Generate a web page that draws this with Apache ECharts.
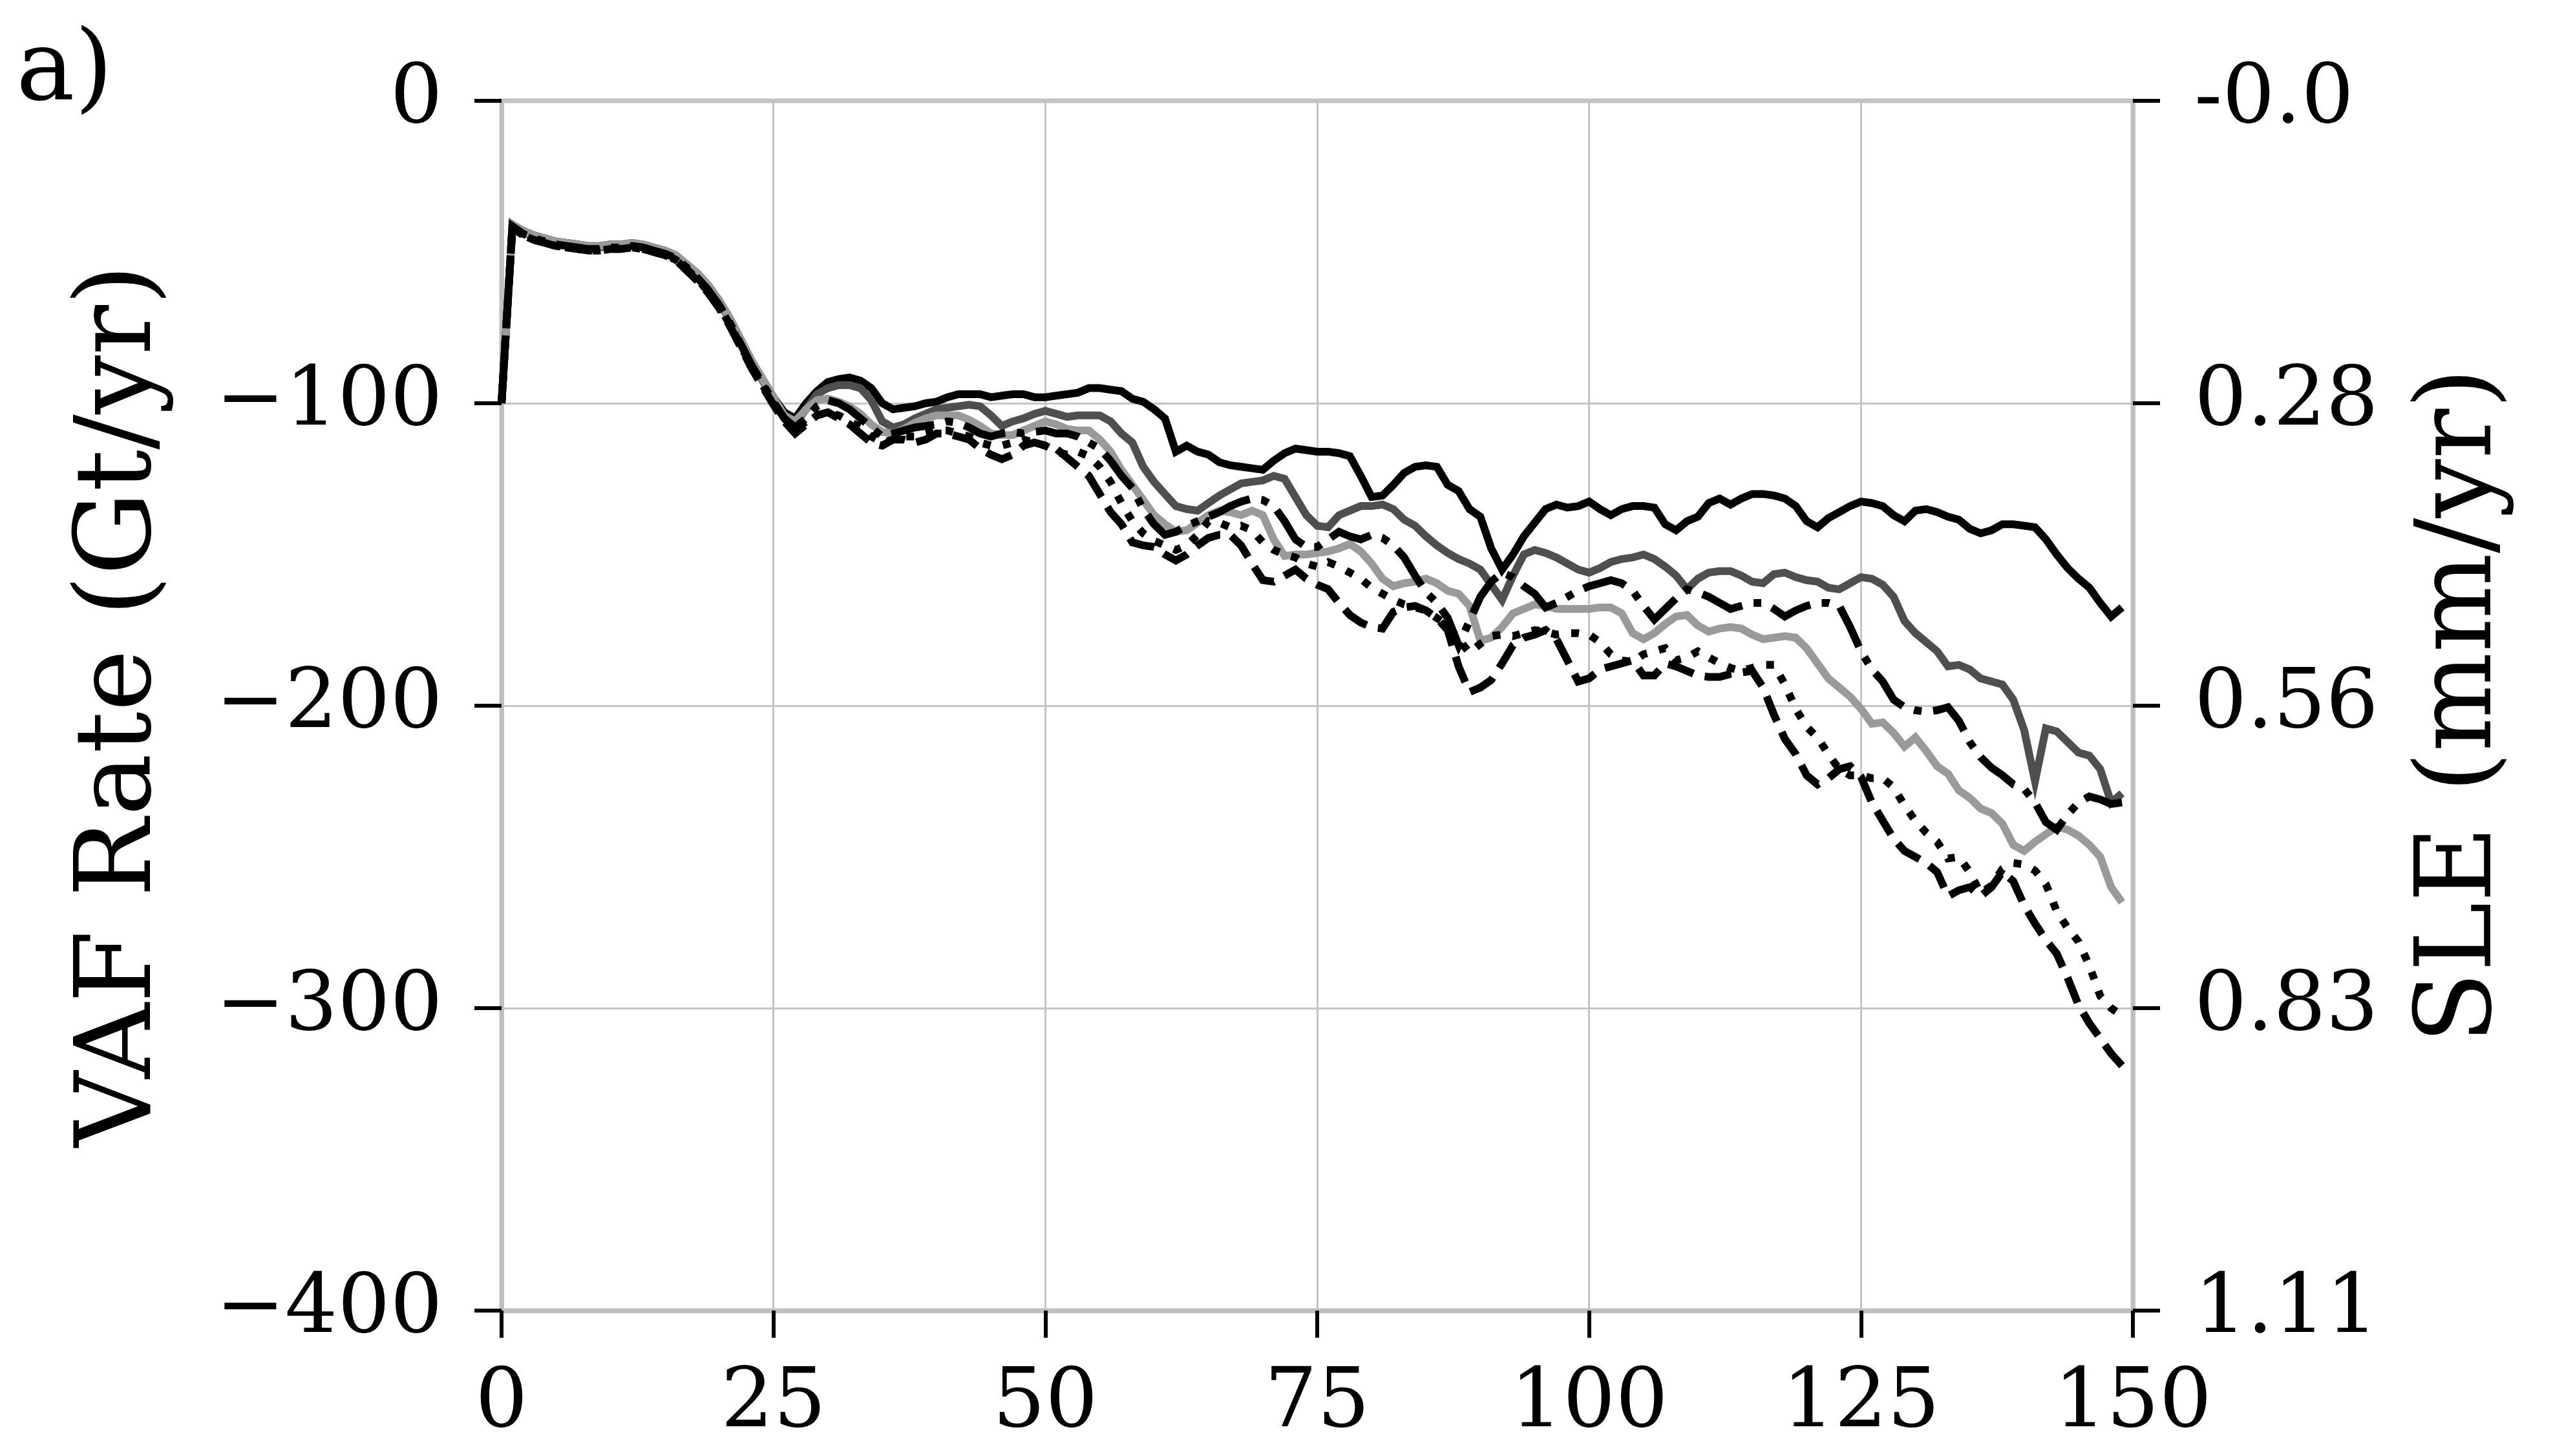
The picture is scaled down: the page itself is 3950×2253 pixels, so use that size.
<!DOCTYPE html>
<html>
<head>
    <meta charset="UTF-8">
    <title>VAF Rate</title>
    <script src="https://cdn.jsdelivr.net/npm/echarts@6/dist/echarts.min.js"></script>
    <style>
        html, body { margin: 0; padding: 0; background: #fff; }
        #main { width: 3950px; height: 2253px; }
    </style>
</head>
<body>
    <div id="main"></div>

    <script type="text/javascript">
        // model years (x)
        const years = [
            0, 1, 2, 3, 4, 5, 6, 7, 8, 9, 10, 11, 12, 13, 14, 15, 16, 17, 18, 19,
            20, 21, 22, 23, 24, 25, 26, 27, 28, 29, 30, 31, 32, 33, 34, 35, 36, 37, 38, 39,
            40, 41, 42, 43, 44, 45, 46, 47, 48, 49, 50, 51, 52, 53, 54, 55, 56, 57, 58, 59,
            60, 61, 62, 63, 64, 65, 66, 67, 68, 69, 70, 71, 72, 73, 74, 75, 76, 77, 78, 79,
            80, 81, 82, 83, 84, 85, 86, 87, 88, 89, 90, 91, 92, 93, 94, 95, 96, 97, 98, 99,
            100, 101, 102, 103, 104, 105, 106, 107, 108, 109, 110, 111, 112, 113, 114, 115, 116, 117, 118, 119,
            120, 121, 122, 123, 124, 125, 126, 127, 128, 129, 130, 131, 132, 133, 134, 135, 136, 137, 138, 139,
            140, 141, 142, 143, 144, 145, 146, 147, 148, 149
        ];

        // VAF rate (Gt/yr)
        const solidBlack = [
            -100, -41, -43, -44.5, -45.5, -46.5, -47, -47.5, -48, -48, -47.5, -47.5, -47, -47.5, -48.5, -49.5, -51, -54, -57, -61,
            -66, -72, -79, -86, -92, -98, -103, -105, -100, -96, -93, -92, -91.5, -92.5, -95, -100, -102, -101.5, -101, -100,
            -99.5, -98, -97, -97, -97, -98, -97.5, -97, -97, -98, -98, -97.5, -97, -96.5, -95, -95, -95.5, -96, -98.5, -99.5,
            -102, -105, -116, -114, -116, -117, -119.5, -120.5, -121, -121.5, -122, -119, -116.5, -115, -115.5, -116, -116, -116.5, -117.5, -124,
            -131, -130.5, -127, -123, -121, -120.5, -121, -127, -129, -135, -137.5, -148, -155, -150, -144, -139.5, -135, -133.5, -134.5, -134,
            -132.5, -135, -137, -135, -134, -134, -134.5, -140, -142, -139, -137.5, -133, -131.5, -133.5, -131.5, -130, -130, -130.5, -131.5, -134,
            -139, -141, -138, -136, -134, -132.5, -133, -134, -137, -139, -135.5, -135, -136, -137.5, -138.5, -141.5, -143, -142, -140, -140,
            -140.5, -141, -145, -150, -154.5, -158, -161, -166, -170.5, -167.5
        ];
        const darkGrey = [
            -100, -41, -43.5, -45, -46, -47, -47.5, -48, -48.5, -48.5, -48, -48, -47.5, -48, -49, -50, -51.5, -54.5, -57.5, -61.5,
            -66.5, -72.5, -79.5, -86.5, -92.5, -98.5, -104, -107, -102, -97, -95, -94, -94, -95, -99, -106, -108, -107, -105, -103.5,
            -102, -101.5, -101, -100.5, -101, -104, -107.5, -106, -105, -103.5, -102.5, -103.5, -104.5, -104, -104, -104, -106, -110, -113, -121,
            -126, -130, -134, -135, -135.5, -133, -130.5, -128.5, -126.5, -126, -125.5, -124, -125, -131, -137, -140.5, -141, -137, -135.5, -134,
            -134, -133.5, -135, -138.5, -140.5, -144, -147, -149.5, -151.5, -153, -155, -160, -165, -157, -150, -148.5, -149.5, -151, -153, -155,
            -156, -154.5, -152.5, -151.5, -151, -150, -151.5, -154, -157, -161.5, -158, -156, -155.5, -155.5, -157, -159, -159.5, -156.5, -156, -157.5,
            -158.5, -159, -161, -161.5, -159.5, -157.5, -158, -160, -164, -172, -176, -179, -182, -187, -186.5, -188, -191, -192, -193, -198,
            -208, -225, -207.5, -208.5, -212, -215.5, -216.5, -221, -232, -229
        ];
        const lightGrey = [
            -100, -41, -43, -44.5, -45.5, -46.5, -47, -47.5, -48, -48, -47.5, -47.5, -47, -47.5, -48.5, -49.5, -51, -54, -57, -61,
            -66, -72, -79, -86, -92, -98, -104, -106, -102, -99, -98.5, -99.5, -101, -103.5, -107, -109.5, -110, -108.5, -106.5, -105,
            -104, -104, -104, -105.5, -107.5, -110, -110.5, -110.5, -109, -107.5, -106, -107, -108.5, -109, -109, -112, -116, -122, -127, -132,
            -137, -140, -142.5, -142, -139.5, -137, -135.5, -136, -137, -135.5, -137, -145, -150.5, -150, -150, -149.5, -149, -148, -146.5, -149,
            -153, -158, -160.5, -159.5, -159, -158, -159.5, -162, -163, -167, -178.5, -177.5, -174, -169.5, -168, -166.5, -167, -168, -168, -168,
            -168, -167.5, -167.5, -169.5, -176, -178, -176, -173, -170.5, -170, -173.5, -175.5, -174.5, -174, -174.5, -176.5, -178, -177.5, -177, -177.5,
            -181, -186, -191, -194, -197, -201, -206, -205.5, -209, -213.5, -210.5, -215, -220, -222.5, -228, -230.5, -234, -235.5, -239, -246,
            -248, -245, -242.5, -240, -241, -243, -246, -250, -260, -265
        ];
        const dashDot = [
            -100, -41.5, -44, -45.5, -46.5, -47.5, -48, -48.5, -49, -49, -48.5, -48.5, -48, -48.5, -49.5, -50.5, -52, -55, -58.5, -62.5,
            -67.5, -73.5, -80.5, -87.5, -93.5, -99.5, -105, -108, -105, -101, -99, -100, -102, -105, -108, -111, -110, -109, -108, -107.5,
            -107, -106, -106.5, -108, -110, -111, -110, -109.5, -110, -109.5, -109, -110, -110, -111, -113, -115, -119, -124, -128, -135,
            -140, -143.5, -142.5, -140.5, -139, -137.5, -136, -134, -132.5, -131.5, -132, -134, -139, -145, -147.5, -147.5, -145, -142.5, -144, -145,
            -143.5, -144.5, -147, -151, -157, -162.5, -166, -171, -180, -172, -164, -159, -156, -157.5, -160.5, -163, -167.5, -166, -164, -162,
            -160.5, -159.5, -158.5, -159.5, -162, -167, -171.5, -168, -164.5, -161.5, -162.5, -164, -166, -168, -167, -166, -166, -168, -170.5, -168.5,
            -167, -166, -166, -167, -174, -182, -188, -192, -198, -200.5, -201.5, -202, -201.5, -200.5, -205, -212, -217, -220.5, -223, -226,
            -227.5, -232, -238.5, -241, -236, -232, -230, -231, -232.5, -232
        ];
        const dotted = [
            -100, -42, -44.5, -46, -47, -48, -48.5, -49, -49.5, -49.5, -49, -49, -48.5, -49, -50, -51, -52.5, -55.5, -59, -63,
            -68, -74, -81, -88, -94, -100, -105, -109, -106, -104, -103, -104, -106, -108, -111, -113, -112, -111, -111, -110,
            -109, -109, -110, -111, -113, -114, -114, -113, -112, -113, -114, -116, -117, -116, -117.5, -121, -126, -133, -139, -143,
            -145.5, -147, -148.5, -147, -143.5, -139, -139.5, -141, -140.5, -142, -146, -148.5, -150, -151, -153, -154, -152.5, -154, -156, -158,
            -161, -163, -165, -166.5, -167.5, -168.5, -171, -173.5, -178, -182.5, -179.5, -177, -176.5, -177, -176, -175, -175.5, -176.5, -176, -176,
            -176.5, -179, -183, -185, -185.5, -183, -182, -181, -185, -184, -182, -184, -186, -187.5, -188.5, -187.5, -186.5, -186.5, -193, -201,
            -207, -210.5, -216, -221, -223, -223, -224, -224, -227, -233, -238, -242, -245, -250.5, -250, -255, -262, -259.5, -254, -252,
            -252.5, -254.5, -259, -268, -273.5, -278, -286, -296, -300, -302.5
        ];
        const dashed = [
            -100, -42, -44.5, -46, -47, -48, -48.5, -49, -49.5, -49.5, -49, -49, -48.5, -49, -50, -51, -52.5, -56, -59.5, -63.5,
            -68.5, -74.5, -81.5, -88.5, -94.5, -100.5, -106, -110, -107, -104, -103, -105, -107, -110, -113, -114, -112, -112, -113, -112,
            -110, -110, -111, -112, -115, -117, -118.5, -117, -114, -113, -114, -115, -118, -121, -124, -130, -136, -140, -146, -147,
            -147.5, -150, -152, -150, -147, -144.5, -143.5, -143.5, -147, -153, -158.5, -159, -157, -155, -158, -160, -161.5, -166, -170, -172.5,
            -174, -174.5, -169, -167.5, -167, -168.5, -171, -175, -187, -195.5, -194, -191.5, -186, -180, -177.5, -176.5, -175, -178, -185, -192,
            -191, -188, -187, -186, -185, -190, -190, -186, -187, -188.5, -190, -190.5, -190.5, -189.5, -189, -188.5, -194, -203, -211, -216,
            -223, -226, -224, -221, -220, -223.5, -232, -238, -244, -248, -250, -252, -255, -263, -261, -260, -263, -260, -255, -258,
            -266, -272, -277.5, -282, -290, -299, -305, -310, -315, -319
        ];

        const xTicks = [0, 25, 50, 75, 100, 125, 150];
        const leftTicks = [0, -100, -200, -300, -400];
        // SLE equivalent, as printed on the right axis
        const rightTickLabels = ['-0.0', '0.28', '0.56', '0.83', '1.11'];

        const FONT = 'DejaVu Serif';
        const SPINE = '#bfbfbf';

        var myChart = echarts.init(document.getElementById('main'));

        function lineSeries(name, values, color, dash) {
            return {
                name: name,
                type: 'line',
                data: years.map((x, i) => [x, values[i]]),
                showSymbol: false,
                symbol: 'none',
                lineStyle: { color: color, width: 12, type: dash, cap: 'butt', join: 'miter' },
                z: 3
            };
        }

        var option = {
            backgroundColor: '#ffffff',
            animation: false,
            title: {
                text: 'a)',
                left: 20,
                top: 34,
                textStyle: { fontFamily: FONT, fontSize: 152, fontWeight: 'normal', color: '#000' }
            },
            grid: {
                left: 776, top: 156, width: 2524, height: 1872,
                show: true, borderColor: SPINE, borderWidth: 7, backgroundColor: 'transparent'
            },
            xAxis: {
                type: 'value',
                min: 0, max: 150, interval: 25,
                axisLine: { show: true, onZero: false, lineStyle: { color: SPINE, width: 7 } },
                axisTick: { show: true, length: 42, lineStyle: { color: '#000', width: 6 } },
                axisLabel: {
                    margin: 82, fontFamily: FONT, fontSize: 128, color: '#000',
                    formatter: v => xTicks.indexOf(v) >= 0 ? String(v) : ''
                },
                splitLine: { show: true, lineStyle: { color: '#c4c4c4', width: 3 } }
            },
            yAxis: [
                {
                    type: 'value',
                    position: 'left',
                    min: -400, max: 0, interval: 100,
                    name: 'VAF Rate (Gt/yr)',
                    nameLocation: 'middle',
                    nameRotate: 90,
                    nameGap: 505,
                    nameTextStyle: { fontFamily: FONT, fontSize: 162, color: '#000' },
                    axisLine: { show: true, onZero: false, lineStyle: { color: SPINE, width: 7 } },
                    axisTick: { show: true, length: 42, lineStyle: { color: '#000', width: 6 } },
                    axisLabel: {
                        margin: 91, fontFamily: FONT, fontSize: 128, color: '#000',
                        formatter: v => leftTicks.indexOf(v) < 0 ? '' : (v < 0 ? '\u2212' + (-v) : String(v))
                    },
                    splitLine: { show: true, lineStyle: { color: '#c4c4c4', width: 3 } }
                },
                {
                    type: 'value',
                    position: 'right',
                    min: -400, max: 0, interval: 100,
                    name: 'SLE (mm/yr)',
                    nameLocation: 'middle',
                    nameRotate: 90,
                    nameGap: 430,
                    nameTextStyle: { fontFamily: FONT, fontSize: 162, color: '#000' },
                    axisLine: { show: true, onZero: false, lineStyle: { color: SPINE, width: 7 } },
                    axisTick: { show: true, length: 42, lineStyle: { color: '#000', width: 6 } },
                    axisLabel: {
                        margin: 95, fontFamily: FONT, fontSize: 128, color: '#000',
                        formatter: v => {
                            const i = leftTicks.indexOf(v);
                            return i < 0 ? '' : rightTickLabels[i];
                        }
                    },
                    splitLine: { show: false }
                }
            ],
            series: [
                lineSeries('solid', solidBlack, '#000000', 'solid'),
                lineSeries('dark grey', darkGrey, '#4f4f4f', 'solid'),
                lineSeries('light grey', lightGrey, '#9a9a9a', 'solid'),
                lineSeries('dash-dot', dashDot, '#000000', [68, 18, 12, 18]),
                lineSeries('dotted', dotted, '#000000', [12, 19]),
                lineSeries('dashed', dashed, '#000000', [42, 18])
            ]
        };

        myChart.setOption(option);
    </script>
</body>
</html>
